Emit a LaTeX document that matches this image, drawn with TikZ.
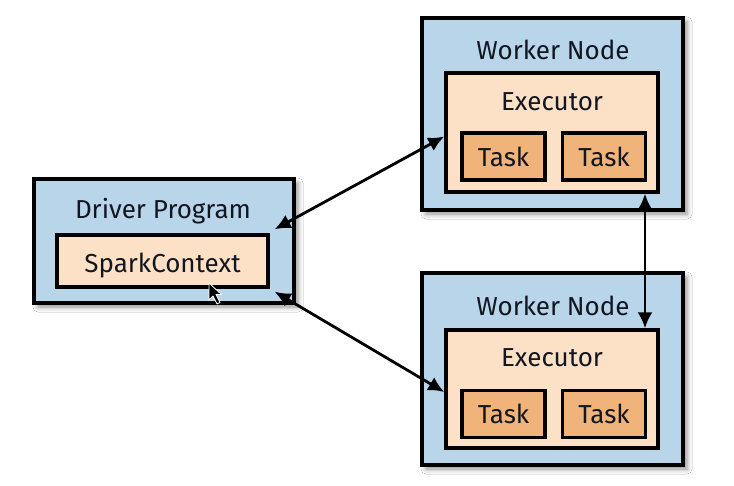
\documentclass[tikz,border=0pt]{standalone}
\usepackage{fontspec}
\setmainfont{Fira Sans}
\usetikzlibrary{arrows.meta,shadows.blur,calc}
\definecolor{nodeblue}{RGB}{184,213,234}
\definecolor{execpeach}{RGB}{253,225,198}
\definecolor{taskorange}{RGB}{240,180,122}
\definecolor{inktext}{RGB}{18,22,32}
\tikzset{
  box/.style={draw=black, line width=3.4pt, rectangle, inner sep=0pt},
  outerbox/.style={box, fill=nodeblue,
    blur shadow={shadow xshift=4pt, shadow yshift=-4pt, shadow blur radius=5pt, shadow opacity=45}},
  execbox/.style={box, fill=execpeach},
  labelfont/.style={font=\fontsize{26}{29}\selectfont, text=inktext},
  taskbox/.style={box, fill=taskorange, minimum width=83pt, minimum height=47pt, labelfont},
  lbl/.style={labelfont, inner sep=0pt},
  link/.style={line width=2.8pt, {Latex[length=16pt,width=15pt]}-{Latex[length=16pt,width=15pt]}}
}
\begin{document}
\begin{tikzpicture}[x=1pt,y=-1pt]
\useasboundingbox[fill=white] (0,0) rectangle (734,486);

% driver program
\node[outerbox, minimum width=260pt, minimum height=124pt] (driver) at (164,241) {};
\node[lbl] (driverlbl) at (163,211) {Driver Program};
\node[execbox, minimum width=211pt, minimum height=52pt, labelfont,
      text height=25pt, text depth=2.5pt] (spark) at (162.5,261) {SparkContext};

% first worker node
\node[outerbox, minimum width=261pt, minimum height=192pt] (worker1) at (552.5,114) {};
\node[lbl] (worker1lbl) at (553,50) {Worker Node};
\node[execbox, minimum width=212pt, minimum height=119pt] (exec1) at (552,132.5) {};
\node[lbl] (exec1lbl) at (552,102) {Executor};
\node[taskbox] (task1a) at (503.5,156.5) {Task};
\node[taskbox] (task1b) at (604,156.5) {Task};

% second worker node
\node[outerbox, minimum width=261pt, minimum height=192pt] (worker2) at (552.5,369) {};
\node[lbl] (worker2lbl) at (553,306) {Worker Node};
\node[execbox, minimum width=212pt, minimum height=118pt] (exec2) at (552,389) {};
\node[lbl] (exec2lbl) at (552,358) {Executor};
\node[taskbox] (task2a) at (503.5,414) {Task};
\node[taskbox] (task2b) at (604,414) {Task};

% connections
\draw[link] ($(spark.north east)+(5,-4)$) -- ([yshift=-4pt]exec1.west);
\draw[link] ($(spark.south east)+(5,3)$) -- ([yshift=-3pt]exec2.west);
\draw[link] ([xshift=93pt]exec1.south) -- ([xshift=93pt]exec2.north);

% mouse pointer
\coordinate (ptr) at (209,283);
\filldraw[fill=black, draw=white, line width=0.8pt, line join=round]
  (ptr) -- ++(0,17) -- ++(4,-4) -- ++(4,8) -- ++(3,-1.5) -- ++(-4,-8) -- ++(5.5,0) -- cycle;
\end{tikzpicture}
\end{document}
